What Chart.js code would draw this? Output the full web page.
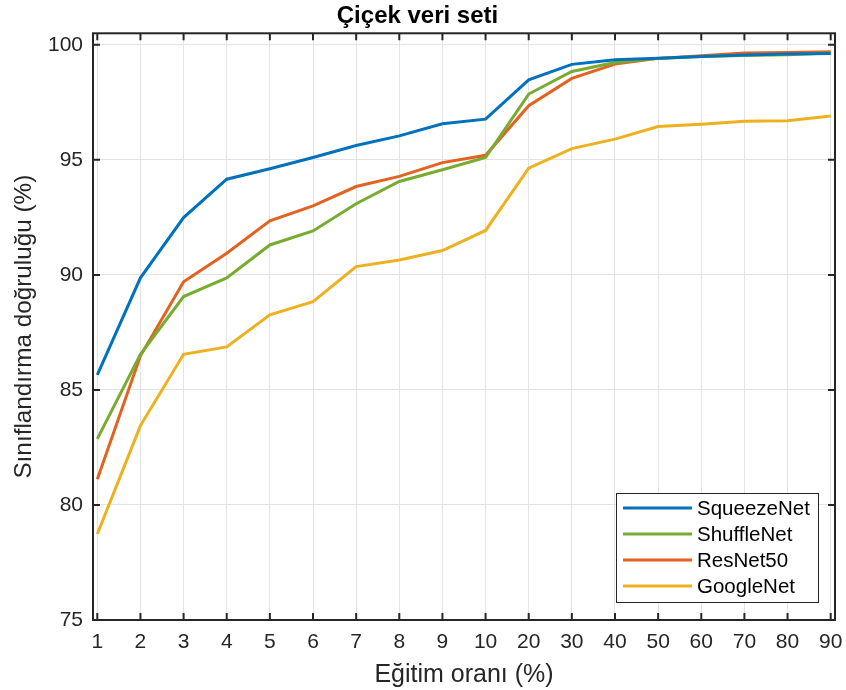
<!DOCTYPE html>
<html>
<head>
<meta charset="utf-8">
<script src="https://cdn.jsdelivr.net/npm/chart.js@4.4.1/dist/chart.umd.min.js"></script>
<style>
  html, body { margin: 0; padding: 0; background: #ffffff; }
  #wrap { width: 846px; height: 690px; position: relative; }
</style>
</head>
<body>
<div id="wrap"><canvas id="c"></canvas></div>
<script>
// ---- data ----
const categories = ['1','2','3','4','5','6','7','8','9','10','20','30','40','50','60','70','80','90'];
const squeezeNet = [85.65, 89.87, 92.49, 94.16, 94.61, 95.10, 95.62, 96.04, 96.57, 96.77, 98.48, 99.15, 99.35, 99.42, 99.49, 99.56, 99.60, 99.62];
const shuffleNet = [82.87, 86.55, 89.06, 89.87, 91.30, 91.91, 93.09, 94.06, 94.57, 95.10, 97.86, 98.84, 99.23, 99.41, 99.49, 99.54, 99.57, 99.64];
const resNet50   = [81.12, 86.48, 89.70, 90.94, 92.35, 93.00, 93.84, 94.28, 94.88, 95.20, 97.35, 98.54, 99.16, 99.41, 99.52, 99.64, 99.67, 99.70];
const googleNet  = [78.74, 83.45, 86.55, 86.87, 88.26, 88.84, 90.36, 90.65, 91.06, 91.93, 94.64, 95.49, 95.90, 96.45, 96.55, 96.68, 96.70, 96.91];
const yTicks = [75, 80, 85, 90, 95, 100];
const seriesNames = ['SqueezeNet', 'ShuffleNet', 'ResNet50', 'GoogleNet'];
const seriesColors = ['#0072BD', '#77AC30', '#E4621F', '#EDB120'];
const seriesValues = [squeezeNet, shuffleNet, resNet50, googleNet];

const TXT = '#262626';
const FONT = "'Liberation Sans', Arial, Helvetica, sans-serif";

const datasets = seriesValues.map((vals, k) => ({
  label: seriesNames[k],
  data: vals.map((v, i) => ({ x: i + 1, y: v })),
  borderColor: seriesColors[k],
  backgroundColor: seriesColors[k],
  borderWidth: 3,
  pointRadius: 0,
  tension: 0,
  fill: false
}));

const framePlugin = {
  id: 'frame',
  afterDatasetsDraw(chart) {
    const { ctx, chartArea: a, scales } = chart;
    const xs = scales.x, ys = scales.y;
    ctx.save();
    ctx.strokeStyle = TXT;
    ctx.lineWidth = 2;
    ctx.strokeRect(a.left, a.top, a.right - a.left, a.bottom - a.top);
    const tl = 7;
    ctx.beginPath();
    categories.forEach((c, i) => {
      const px = xs.getPixelForValue(i + 1);
      ctx.moveTo(px, a.bottom); ctx.lineTo(px, a.bottom - tl);
      ctx.moveTo(px, a.top); ctx.lineTo(px, a.top + tl);
    });
    yTicks.forEach(v => {
      const py = ys.getPixelForValue(v);
      ctx.moveTo(a.left, py); ctx.lineTo(a.left + tl, py);
      ctx.moveTo(a.right, py); ctx.lineTo(a.right - tl, py);
    });
    ctx.stroke();

    // legend
    const bx = 616, by = 493, bw = 202, bh = 109;
    ctx.fillStyle = '#ffffff';
    ctx.fillRect(bx, by, bw, bh);
    ctx.strokeStyle = '#262626';
    ctx.lineWidth = 1;
    ctx.strokeRect(bx + 0.5, by + 0.5, bw, bh);
    ctx.font = "20.5px " + FONT;
    ctx.textBaseline = 'middle';
    ctx.textAlign = 'left';
    chart.data.datasets.forEach((ds, k) => {
      const yy = 508 + k * 26;
      ctx.strokeStyle = ds.borderColor;
      ctx.lineWidth = 3;
      ctx.beginPath();
      ctx.moveTo(623, yy); ctx.lineTo(692, yy);
      ctx.stroke();
      ctx.fillStyle = '#000000';
      ctx.fillText(ds.label, 697, yy + 1);
    });
    ctx.restore();
  }
};

new Chart(document.getElementById('c'), {
  type: 'line',
  data: { datasets },
  options: {
    responsive: true,
    maintainAspectRatio: false,
    animation: false,
    layout: { padding: { left: 0, right: 11, top: 0, bottom: 0 } },
    plugins: {
      legend: { display: false },
      tooltip: { enabled: false },
      title: {
        display: true,
        text: 'Çiçek veri seti',
        color: '#000000',
        font: { family: FONT, size: 24, weight: 'bold', lineHeight: 1.2 },
        padding: { top: 2, bottom: 2.5 }
      }
    },
    scales: {
      x: {
        type: 'linear',
        min: 0.9,
        max: 18.1,
        afterFit(s) { s.height = 70; s.paddingLeft = 0; s.paddingRight = 0; },
        afterBuildTicks(s) { s.ticks = categories.map((c, i) => ({ value: i + 1 })); },
        ticks: {
          color: TXT,
          font: { family: FONT, size: 21 },
          padding: 10,
          autoSkip: false,
          maxRotation: 0,
          callback: (v) => categories[Math.round(v) - 1] ?? ''
        },
        grid: { color: '#e3e3e3', lineWidth: 1, drawTicks: false },
        border: { display: false },
        title: {
          display: true,
          text: 'Eğitim oranı (%)',
          color: TXT,
          font: { family: FONT, size: 25, lineHeight: 1.2 },
          padding: { top: 5, bottom: 0 }
        }
      },
      y: {
        type: 'linear',
        min: 75,
        max: 100.5,
        afterFit(s) { s.width = 93; s.paddingTop = 0; s.paddingBottom = 0; },
        afterBuildTicks(s) { s.ticks = yTicks.map(v => ({ value: v })); },
        ticks: {
          color: TXT,
          font: { family: FONT, size: 21 },
          padding: 10
        },
        grid: { color: '#e3e3e3', lineWidth: 1, drawTicks: false },
        border: { display: false },
        title: {
          display: true,
          text: 'Sınıflandırma doğruluğu (%)',
          color: TXT,
          font: { family: FONT, size: 24.3, lineHeight: 1.2 },
          padding: { top: 10, bottom: 0 }
        }
      }
    }
  },
  plugins: [framePlugin]
});
</script>
</body>
</html>
